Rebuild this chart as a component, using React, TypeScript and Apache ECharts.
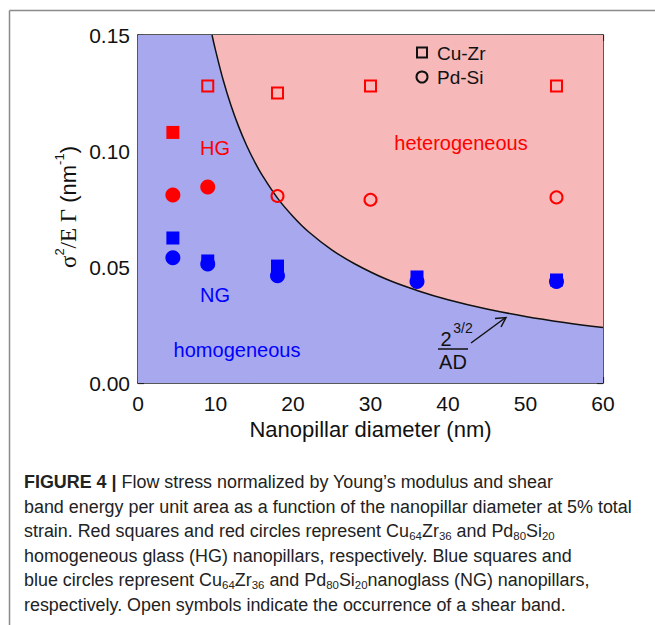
import React, { useEffect, useRef } from "react";
import * as echarts from "echarts";

// ---- data ----
const xTicks = [0, 10, 20, 30, 40, 50, 60];
const yTicks = [0, 0.05, 0.1, 0.15];

// HG (red) Cu-Zr squares
const hgCuZrFilled: [number, number][] = [[4.5, 0.108]];
const hgCuZrOpen: [number, number][] = [[9, 0.128], [18, 0.125], [30, 0.128], [54, 0.128]];
// HG (red) Pd-Si circles
const hgPdSiFilled: [number, number][] = [[4.5, 0.081], [9, 0.0845]];
const hgPdSiOpen: [number, number][] = [[18, 0.0806], [30, 0.079], [54, 0.08]];
// NG (blue)
const ngCuZr: [number, number][] = [[4.5, 0.0625], [9, 0.0526], [18, 0.0504], [36, 0.0457], [54, 0.0444]];
const ngPdSi: [number, number][] = [[4.5, 0.054], [9, 0.0513], [18, 0.0462], [36, 0.0437], [54, 0.0437]];

// boundary curve 2^(3/2)/(A D)
const curveD = [9.55, 10, 11, 12, 13, 14, 15, 16, 18, 20, 22, 25, 28, 32, 36, 40, 45, 50, 55, 60];
const curveY = [0.15, 0.1435, 0.1305, 0.1196, 0.1104, 0.1025, 0.0957, 0.0897, 0.0797, 0.0718, 0.0652, 0.0574, 0.0513, 0.0448, 0.0399, 0.0359, 0.0319, 0.0287, 0.0261, 0.0239];

const captionLines = [
  "{b|FIGURE 4 |} Flow stress normalized by Young’s modulus and shear",
  "band energy per unit area as a function of the nanopillar diameter at 5% total",
  "strain. Red squares and red circles represent Cu{sub|64}Zr{sub|36} and Pd{sub|80}Si{sub|20}",
  "homogeneous glass (HG) nanopillars, respectively. Blue squares and",
  "blue circles represent Cu{sub|64}Zr{sub|36} and Pd{sub|80}Si{sub|20}nanoglass (NG) nanopillars,",
  "respectively. Open symbols indicate the occurrence of a shear band.",
];

const SANS = "'Liberation Sans', Arial, Helvetica, sans-serif";
const SERIF = "'Liberation Serif', 'Times New Roman', serif";
const RED = "#ff0000";
const BLUE = "#0000ff";
const RED_FILL = "#f6b8b8";
const BLUE_FILL = "#a8a8ee";

export default function App() {
  const ref = useRef<HTMLDivElement>(null);

  useEffect(() => {
    if (!ref.current) return;
    const chart = echarts.init(ref.current, undefined, { renderer: "svg" });

    const axisCommon = {
      type: "value" as const,
      axisLine: { show: true, onZero: false, lineStyle: { color: "#222", width: 1.5 } },
      axisTick: { show: true, inside: true, length: 6, lineStyle: { color: "#222", width: 1.2 } },
      splitLine: { show: false },
      minorSplitLine: { show: false },
    };

    const curveData = curveD.map((d, i) => [d, curveY[i]]);

    const opt: any = {
      animation: false,
      backgroundColor: "#fff",
      grid: { left: 138, top: 35, width: 465, height: 348, containLabel: false },
      xAxis: [
        {
          ...axisCommon,
          position: "bottom",
          min: xTicks[0],
          max: xTicks[xTicks.length - 1],
          interval: 10,
          minorTick: { show: true, splitNumber: 3, length: 4, lineStyle: { color: "#222", width: 1 } },
          axisLabel: { fontSize: 21, color: "#111", margin: 10, fontFamily: SANS },
          name: "Nanopillar diameter (nm)",
          nameLocation: "middle",
          nameGap: 27,
          nameTextStyle: { fontSize: 22, color: "#111", fontFamily: SANS },
        },
        {
          ...axisCommon,
          position: "top",
          min: xTicks[0],
          max: xTicks[xTicks.length - 1],
          interval: 10,
          minorTick: { show: true, splitNumber: 3, length: 4, lineStyle: { color: "#222", width: 1 } },
          axisLabel: { show: false },
        },
      ],
      yAxis: [
        {
          ...axisCommon,
          position: "left",
          min: yTicks[0],
          max: yTicks[yTicks.length - 1],
          interval: 0.05,
          minorTick: { show: true, splitNumber: 2, length: 4, lineStyle: { color: "#222", width: 1 } },
          axisLabel: {
            fontSize: 21,
            color: "#111",
            margin: 8,
            fontFamily: SANS,
            formatter: (v: number) => v.toFixed(2),
          },
        },
        {
          ...axisCommon,
          position: "right",
          min: yTicks[0],
          max: yTicks[yTicks.length - 1],
          interval: 0.05,
          minorTick: { show: true, splitNumber: 2, length: 4, lineStyle: { color: "#222", width: 1 } },
          axisLabel: { show: false },
        },
      ],
      series: [
        {
          type: "line",
          data: [[0, 0.15], [60, 0.15]],
          symbol: "none",
          lineStyle: { width: 0 },
          areaStyle: { color: RED_FILL, opacity: 1 },
          silent: true,
          z: 1,
        },
        {
          type: "line",
          data: [[0, 0.15], [curveD[0], 0.15]],
          symbol: "none",
          lineStyle: { width: 0 },
          areaStyle: { color: BLUE_FILL, opacity: 1 },
          silent: true,
          z: 2,
        },
        {
          type: "line",
          data: curveData,
          symbol: "none",
          smooth: 0.4,
          lineStyle: { color: "#111", width: 1.5 },
          areaStyle: { color: BLUE_FILL, opacity: 1 },
          silent: true,
          z: 3,
        },
        {
          type: "scatter",
          data: ngCuZr,
          symbol: "rect",
          symbolSize: 13,
          itemStyle: { color: BLUE, opacity: 1 },
          z: 5,
        },
        {
          type: "scatter",
          data: ngPdSi,
          symbol: "circle",
          symbolSize: 15,
          itemStyle: { color: BLUE, opacity: 1 },
          z: 6,
        },
        {
          type: "scatter",
          data: hgCuZrFilled,
          symbol: "rect",
          symbolSize: 13,
          itemStyle: { color: RED, opacity: 1 },
          z: 5,
        },
        {
          type: "scatter",
          data: hgPdSiFilled,
          symbol: "circle",
          symbolSize: 15,
          itemStyle: { color: RED, opacity: 1 },
          z: 5,
        },
        {
          type: "scatter",
          data: hgCuZrOpen,
          symbol: "rect",
          symbolSize: 11,
          itemStyle: { color: "rgba(0,0,0,0)", borderColor: RED, borderWidth: 2, opacity: 1 },
          z: 5,
        },
        {
          type: "scatter",
          data: hgPdSiOpen,
          symbol: "circle",
          symbolSize: 12,
          itemStyle: { color: "rgba(0,0,0,0)", borderColor: RED, borderWidth: 2, opacity: 1 },
          z: 5,
        },
      ],
      graphic: [
        // outer frame
        { type: "line", shape: { x1: 9.5, y1: 10.5, x2: 655, y2: 10.5 }, style: { stroke: "#8a8a8a", lineWidth: 1.5 }, z: 100 },
        { type: "line", shape: { x1: 9.5, y1: 10.5, x2: 9.5, y2: 625 }, style: { stroke: "#8a8a8a", lineWidth: 1.5 }, z: 100 },
        // legend
        { type: "rect", shape: { x: 417, y: 47.5, width: 10, height: 10 }, style: { fill: "none", stroke: "#111", lineWidth: 2 }, z: 100 },
        { type: "text", x: 437, y: 53, style: { text: "Cu-Zr", fill: "#111", fontSize: 19, fontFamily: SANS, verticalAlign: "middle" }, z: 100 },
        { type: "circle", shape: { cx: 422, cy: 77, r: 5.5 }, style: { fill: "none", stroke: "#111", lineWidth: 2 }, z: 100 },
        { type: "text", x: 437, y: 77, style: { text: "Pd-Si", fill: "#111", fontSize: 19, fontFamily: SANS, verticalAlign: "middle" }, z: 100 },
        // region labels
        { type: "text", x: 461, y: 143, style: { text: "heterogeneous", fill: RED, fontSize: 20, fontFamily: SANS, align: "center", verticalAlign: "middle" }, z: 100 },
        { type: "text", x: 215, y: 148, style: { text: "HG", fill: RED, fontSize: 20, fontFamily: SANS, align: "center", verticalAlign: "middle" }, z: 100 },
        { type: "text", x: 215, y: 295, style: { text: "NG", fill: BLUE, fontSize: 20, fontFamily: SANS, align: "center", verticalAlign: "middle" }, z: 100 },
        { type: "text", x: 237, y: 350, style: { text: "homogeneous", fill: BLUE, fontSize: 20, fontFamily: SANS, align: "center", verticalAlign: "middle" }, z: 100 },
        // curve annotation 2^(3/2)/AD
        { type: "text", x: 446, y: 338.5, style: { text: "2", fill: "#111", fontSize: 20, fontFamily: SANS, align: "center", verticalAlign: "middle" }, z: 100 },
        { type: "text", x: 463, y: 328, style: { text: "3/2", fill: "#111", fontSize: 14, fontFamily: SANS, align: "center", verticalAlign: "middle" }, z: 100 },
        { type: "line", shape: { x1: 438, y1: 349, x2: 468, y2: 349 }, style: { stroke: "#111", lineWidth: 1.5 }, z: 100 },
        { type: "text", x: 453, y: 362, style: { text: "AD", fill: "#111", fontSize: 20, fontFamily: SANS, align: "center", verticalAlign: "middle" }, z: 100 },
        { type: "line", shape: { x1: 471, y1: 343, x2: 505, y2: 318 }, style: { stroke: "#111", lineWidth: 1.5 }, z: 100 },
        { type: "polyline", shape: { points: [[495, 318.5], [506, 317.5], [501, 327]] }, style: { stroke: "#111", fill: "none", lineWidth: 1.5 }, z: 100 },
        // y axis title
        {
          type: "text",
          x: 68,
          y: 207,
          rotation: Math.PI / 2,
          style: {
            text: "{i|σ}{sup|2}{i|/E Γ} (nm{sup|-1})",
            fill: "#111",
            fontSize: 22,
            fontFamily: SANS,
            align: "center",
            verticalAlign: "middle",
            lineHeight: 30,
            rich: {
              i: { fontSize: 23, fontFamily: SERIF, fill: "#111", lineHeight: 30 },
              sup: { fontSize: 13, fontFamily: SANS, fill: "#111", padding: [0, 0, 18, 0] },
            },
          },
          z: 100,
        },
        // caption
        ...captionLines.map((t, i) => ({
          type: "text",
          x: 24,
          y: 482 + i * 24.6,
          scaleX: 0.995,
          style: {
            text: t,
            fill: "#222",
            fontSize: 18,
            fontFamily: SANS,
            verticalAlign: "middle",
            lineHeight: 24,
            rich: {
              b: { fontSize: 18, fontWeight: "bold", fontFamily: SANS, fill: "#222", lineHeight: 24 },
              sub: { fontSize: 11.5, fontFamily: SANS, fill: "#222", padding: [9, 0, 0, 0] },
            },
          },
          z: 100,
        })),
      ],
    };
    chart.setOption(opt);
    return () => chart.dispose();
  }, []);

  return (
    <div style={{ position: "absolute", left: 0, top: 0, width: 655, height: 625, background: "#fff" }}>
      <div ref={ref} style={{ width: 655, height: 625 }} />
    </div>
  );
}
